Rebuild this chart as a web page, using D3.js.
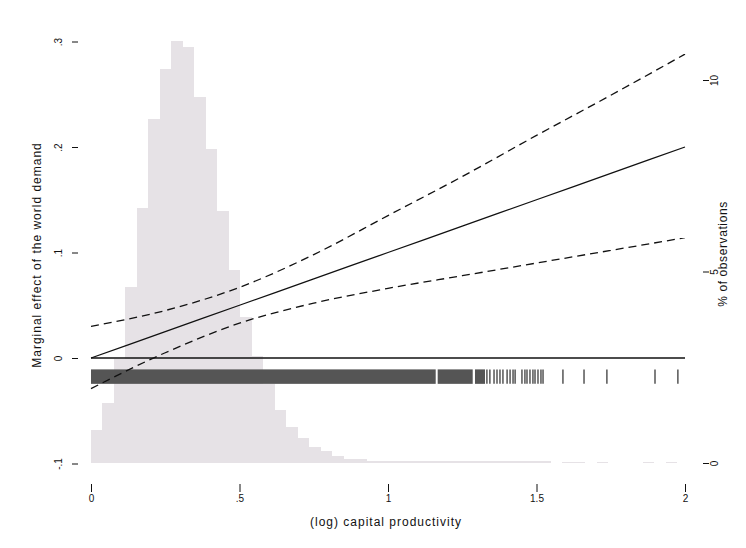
<!DOCTYPE html>
<html><head><meta charset="utf-8">
<script src="https://cdn.jsdelivr.net/npm/d3@7"></script>
<style>body{margin:0;background:#fff}svg{display:block}</style>
</head><body><svg id="c" width="746" height="548"></svg>
<script>
// ---------- data ----------
const xTicks = [0, 0.5, 1, 1.5, 2];
const xTickLabels = ["0", ".5", "1", "1.5", "2"];
const yTicks = [-0.1, 0, 0.1, 0.2, 0.3];
const yTickLabels = ["-.1", "0", ".1", ".2", ".3"];
const pctTicks = [0, 5, 10];
const pctTickLabels = ["0", "5", "10"];

const gridX  = [0, 0.25, 0.5, 0.75, 1, 1.25, 1.5, 1.75, 2];
const effect = [0, 0.025, 0.050, 0.075, 0.100, 0.125, 0.150, 0.175, 0.200];
const upper  = [0.030, 0.045, 0.067, 0.098, 0.135, 0.172, 0.211, 0.249, 0.288];
const lower  = [-0.029, 0.005, 0.033, 0.052, 0.066, 0.078, 0.090, 0.102, 0.114];

const binWidth = 0.0387;
const histPct = [0.86, 1.57, 2.72, 4.60, 6.66, 8.97, 10.29, 11.02, 10.85, 9.56,
                 8.21, 6.58, 5.04, 3.81, 2.79, 2.06, 1.38, 0.94, 0.66, 0.43,
                 0.31, 0.18, 0.10, 0.10, 0.06, 0.06, 0.04, 0.04, 0.04, 0.04,
                 0.04, 0.04, 0.04, 0.04, 0.04, 0.04, 0.04, 0.04, 0.04, 0.04,
                 0, 0.03, 0.03, 0, 0.03, 0, 0, 0, 0.03, 0, 0.03, 0];

const rugSegments = [[0, 1.1606], [1.1673, 1.2852], [1.2929, 1.3266]];
const rugTicks = [1.333, 1.343, 1.357, 1.367, 1.377, 1.387, 1.401, 1.411, 1.421, 1.428,
                  1.451, 1.461, 1.468, 1.478, 1.488, 1.495, 1.505, 1.515, 1.522,
                  1.589, 1.660, 1.737, 1.899, 1.976];

// ---------- drawing ----------
const svg = d3.select("#c");
const font = "'Liberation Sans', Arial, Helvetica, sans-serif";
const x = d3.scaleLinear().domain([0, 2]).range([91, 685]);
const yL = d3.scaleLinear().domain([-0.1, 0.3]).range([463.5, 41.5]);
const yR = d3.scaleLinear().domain([0, 11]).range([463, 41.7]);

// histogram
svg.append("g").selectAll("rect").data(histPct).join("rect")
  .attr("x", (d, i) => x(i * binWidth))
  .attr("width", (d, i) => x((i + 1) * binWidth) - x(i * binWidth))
  .attr("y", d => yR(d))
  .attr("height", d => yR(0) - yR(d))
  .attr("fill", "#e6e2e6")
  .attr("shape-rendering", "crispEdges");

// rug
const rugTop = yL(-0.0108), rugBot = yL(-0.0245);
svg.append("g").selectAll("rect").data(rugSegments).join("rect")
  .attr("x", d => x(d[0])).attr("width", d => x(d[1]) - x(d[0]))
  .attr("y", rugTop).attr("height", rugBot - rugTop)
  .attr("fill", "#555");
svg.append("g").selectAll("line").data(rugTicks).join("line")
  .attr("x1", d => x(d)).attr("x2", d => x(d))
  .attr("y1", rugTop).attr("y2", rugBot)
  .attr("stroke", "#555").attr("stroke-width", 1.5);

// zero line
svg.append("line").attr("x1", x(0)).attr("x2", x(2))
  .attr("y1", yL(0)).attr("y2", yL(0))
  .attr("stroke", "#111").attr("stroke-width", 1.6);

// lines
const line = d3.line().x(d => x(d[0])).y(d => yL(d[1])).curve(d3.curveMonotoneX);
const mk = arr => gridX.map((v, i) => [v, arr[i]]);
svg.append("path").attr("d", line(mk(upper))).attr("fill", "none")
  .attr("stroke", "#111").attr("stroke-width", 1.3).attr("stroke-dasharray", "8,5");
svg.append("path").attr("d", line(mk(lower))).attr("fill", "none")
  .attr("stroke", "#111").attr("stroke-width", 1.3).attr("stroke-dasharray", "8,5");
svg.append("path").attr("d", line(mk(effect))).attr("fill", "none")
  .attr("stroke", "#111").attr("stroke-width", 1.3);

// left axis
const gL = svg.append("g").attr("transform", "translate(78,0)");
gL.call(d3.axisLeft(yL).tickValues(yTicks).tickSize(6).tickFormat((d, i) => yTickLabels[i]));
gL.select(".domain").remove();
gL.selectAll(".tick line").attr("stroke", "#111");
gL.selectAll(".tick text").attr("font-family", font).attr("font-size", 10).attr("fill", "#111")
  .attr("x", null).attr("dy", null).attr("text-anchor", "middle")
  .attr("transform", "translate(-16,0) rotate(-90)");

// right axis
const gR = svg.append("g").attr("transform", "translate(703,0)");
gR.call(d3.axisRight(yR).tickValues(pctTicks).tickSize(6).tickFormat((d, i) => pctTickLabels[i]));
gR.select(".domain").remove();
gR.selectAll(".tick line").attr("stroke", "#111");
gR.selectAll(".tick text").attr("font-family", font).attr("font-size", 10).attr("fill", "#111")
  .attr("x", null).attr("dy", null).attr("text-anchor", "middle")
  .attr("transform", "translate(15,0) rotate(-90)");

// bottom axis
const gB = svg.append("g").attr("transform", "translate(0,484)");
gB.call(d3.axisBottom(x).tickValues(xTicks).tickSize(8).tickFormat((d, i) => xTickLabels[i]));
gB.select(".domain").remove();
gB.selectAll(".tick line").attr("stroke", "#111");
gB.selectAll(".tick text").attr("font-family", font).attr("font-size", 10).attr("fill", "#111")
  .attr("y", 11).attr("dy", "0.71em");

// titles
svg.append("text").attr("x", 386).attr("y", 526).attr("text-anchor", "middle")
  .attr("font-family", font).attr("font-size", 12).attr("letter-spacing", 1).attr("fill", "#111")
  .text("(log) capital productivity");
svg.append("text").attr("transform", "translate(41,255) rotate(-90)").attr("text-anchor", "middle")
  .attr("font-family", font).attr("font-size", 12).attr("letter-spacing", 1).attr("fill", "#111")
  .text("Marginal effect of the world demand");
svg.append("text").attr("transform", "translate(727,254) rotate(-90)").attr("text-anchor", "middle")
  .attr("font-family", font).attr("font-size", 12).attr("letter-spacing", 0.6).attr("fill", "#111")
  .text("% of observations");
</script>
</body></html>
